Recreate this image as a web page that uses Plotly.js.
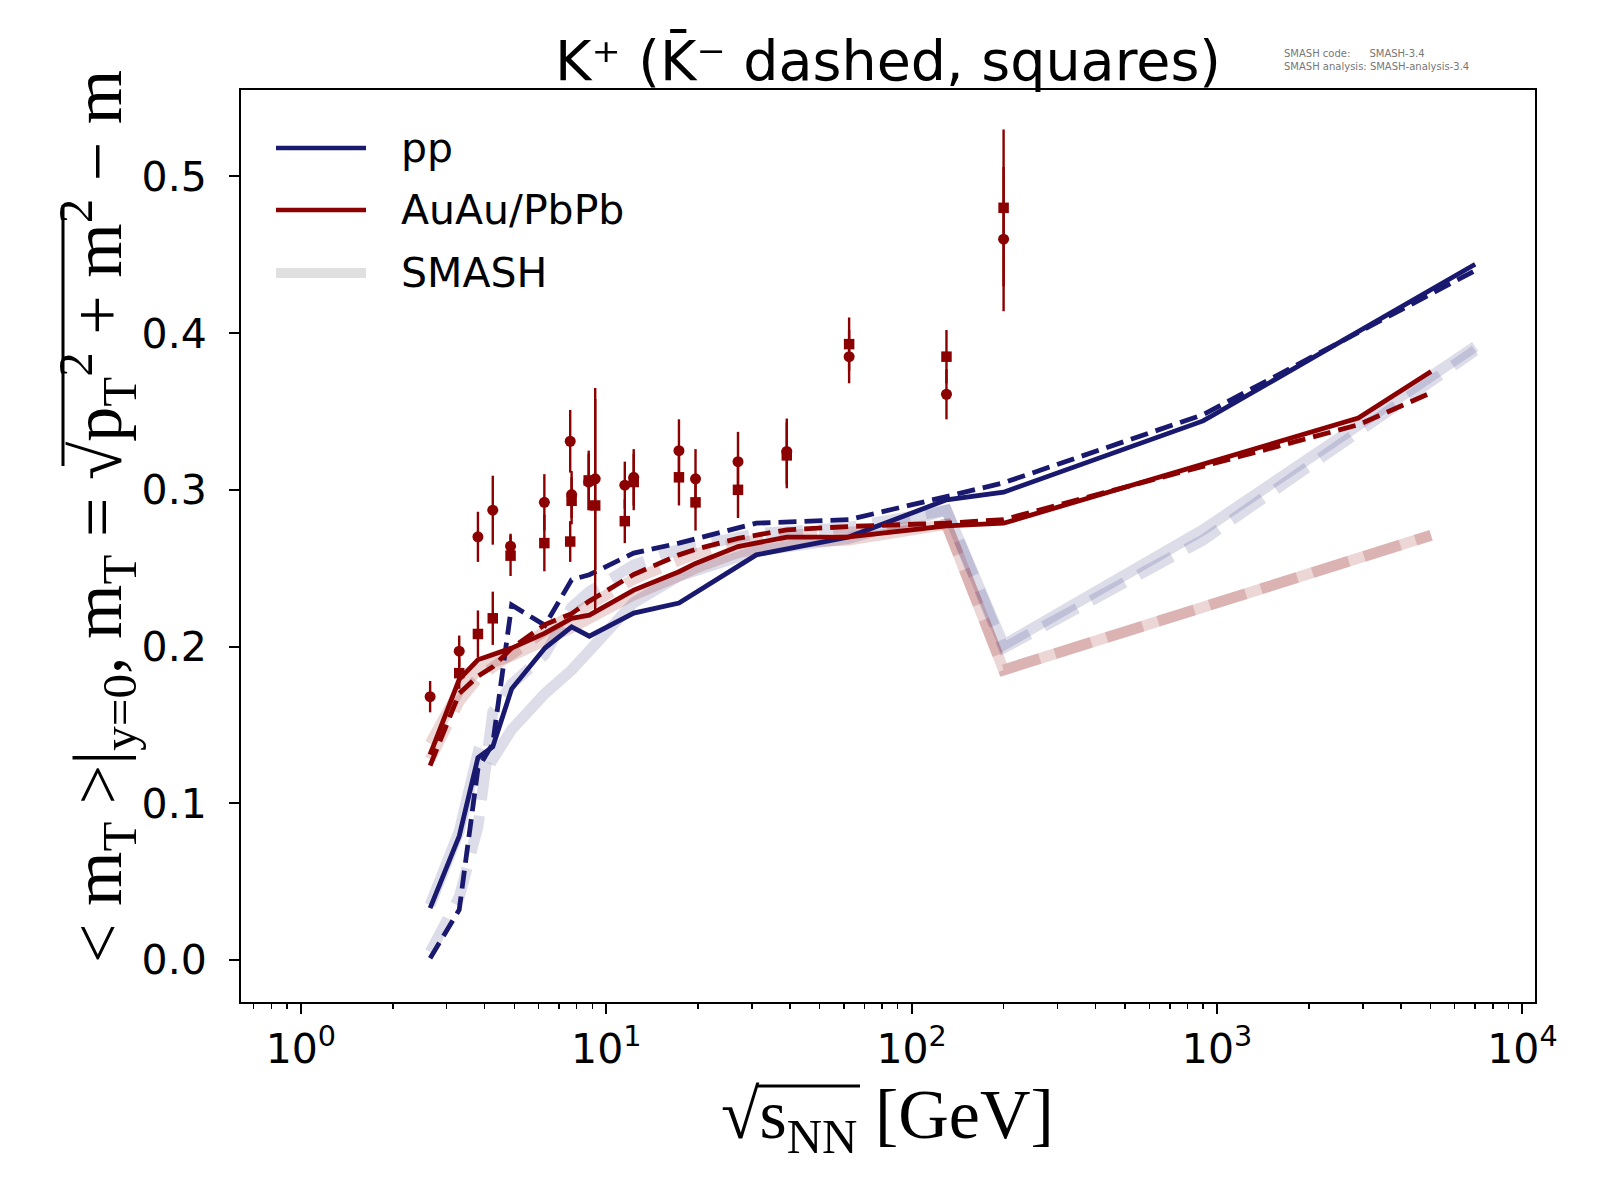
<!DOCTYPE html>
<html>
<head>
<meta charset="utf-8">
<script src="https://cdn.plot.ly/plotly-3.0.1.min.js"></script>
<style>html,body{margin:0;padding:0;background:#fff;}#plot{width:1600px;height:1200px;}</style>
</head>
<body>
<div id="plot"></div>
<script>
// ---------- data ----------
const energiesPP = [2.65, 3.3, 3.8, 4.25, 4.9, 6.3, 7.7, 8.8, 12.3, 17.3, 31, 62.4, 130, 200, 900, 7000];
const ppKplus   = [0.033, 0.079, 0.129, 0.136, 0.173, 0.199, 0.2126, 0.2066, 0.2213, 0.2277, 0.2585, 0.270, 0.2936, 0.2985, 0.344, 0.444];
const ppKminus  = [0.001, 0.032, 0.122, 0.138, 0.2265, 0.2135, 0.2426, 0.2458, 0.2596, 0.266, 0.2787, 0.281, 0.2957, 0.3045, 0.348, 0.440];
const smashPPKplus  = [0.035, 0.082, 0.132, 0.128, 0.147, 0.170, 0.185, 0.198, 0.228, 0.245, 0.261, 0.269, 0.287, 0.201, 0.2745, 0.3915];
const smashPPKminus = [0.005, 0.040, 0.085, 0.158, 0.176, 0.195, 0.225, 0.235, 0.252, 0.262, 0.272, 0.276, 0.287, 0.199, 0.268, 0.389];

const energiesAA = [2.65, 3.3, 3.8, 4.25, 4.9, 6.3, 7.7, 8.8, 11.5, 12.3, 17.3, 19.6, 27, 39, 62.4, 130, 200, 2900, 5020];
const aaKplus    = [0.131, 0.179, 0.1915, 0.195, 0.199, 0.2085, 0.218, 0.220, 0.233, 0.236, 0.2477, 0.253, 0.2638, 0.2698, 0.270, 0.277, 0.2787, 0.3458, 0.3755];
const aaKminus   = [0.124, 0.170, 0.181, 0.187, 0.199, 0.214, 0.221, 0.229, 0.2426, 0.246, 0.2585, 0.262, 0.269, 0.2745, 0.2766, 0.2787, 0.281, 0.3415, 0.362];

const energiesSmashAA = [2.65, 3.3, 3.8, 4.25, 4.9, 6.3, 7.7, 8.8, 11.5, 12.3, 17.3, 19.6, 27, 39, 62.4, 130, 200, 5020];
const smashAAKplus  = [0.138, 0.172, 0.185, 0.190, 0.194, 0.203, 0.212, 0.218, 0.230, 0.233, 0.245, 0.250, 0.260, 0.266, 0.268, 0.278, 0.185, 0.271];
const smashAAKminus = [0.128, 0.165, 0.180, 0.187, 0.196, 0.210, 0.220, 0.227, 0.240, 0.243, 0.255, 0.259, 0.266, 0.271, 0.273, 0.278, 0.185, 0.271];

const dataKplusX   = [2.65, 3.3, 3.8, 4.25, 4.86, 6.27, 7.62, 7.7, 8.76, 9.2, 11.5, 12.3, 17.3, 19.6, 27, 39, 62.4, 130, 200];
const dataKplusY   = [0.168, 0.197, 0.270, 0.287, 0.264, 0.292, 0.331, 0.297, 0.305, 0.307, 0.303, 0.308, 0.325, 0.307, 0.318, 0.3245, 0.385, 0.361, 0.460];
const dataKplusErr = [0.010, 0.010, 0.016, 0.022, 0.008, 0.018, 0.020, 0.015, 0.018, 0.058, 0.015, 0.018, 0.020, 0.019, 0.019, 0.021, 0.017, 0.016, 0.046];

const dataKminusX   = [3.3, 3.8, 4.25, 4.86, 6.27, 7.62, 7.7, 8.76, 9.2, 11.5, 12.3, 17.3, 19.6, 27, 39, 62.4, 130, 200];
const dataKminusY   = [0.183, 0.208, 0.218, 0.258, 0.266, 0.267, 0.293, 0.306, 0.290, 0.280, 0.305, 0.308, 0.292, 0.300, 0.322, 0.393, 0.385, 0.480];
const dataKminusErr = [0.010, 0.015, 0.017, 0.013, 0.018, 0.013, 0.015, 0.019, 0.068, 0.014, 0.018, 0.018, 0.018, 0.018, 0.021, 0.017, 0.017, 0.050];

const xTickVals = [1, 10, 100, 1000, 10000];
const xTickText = ['10<sup>0</sup>', '10<sup>1</sup>', '10<sup>2</sup>', '10<sup>3</sup>', '10<sup>4</sup>'];
const yTickVals = [0, 0.1, 0.2, 0.3, 0.4, 0.5];
const yTickText = ['0.0', '0.1', '0.2', '0.3', '0.4', '0.5'];

// ---------- styling ----------
const NAVY = '#191970', RED = '#8b0000';
const LAV = 'rgba(25,25,112,0.15)', PINK = 'rgba(139,0,0,0.16)';
const BAND_W = 11, LINE_W = 4.8;
const BAND_DASH = '38px,16px', LINE_DASH = '18px,8px';

function line(x, y, color, width, dash) {
  return {x: x, y: y, type: 'scatter', mode: 'lines', hoverinfo: 'skip',
          line: {color: color, width: width, dash: dash || 'solid'}};
}
const traces = [
  line(energiesPP, smashPPKplus, LAV, BAND_W),
  line(energiesPP, smashPPKminus, LAV, BAND_W, BAND_DASH),
  line(energiesSmashAA, smashAAKplus, PINK, BAND_W),
  line(energiesSmashAA, smashAAKminus, PINK, BAND_W, BAND_DASH),
  line(energiesPP, ppKplus, NAVY, LINE_W),
  line(energiesPP, ppKminus, NAVY, LINE_W, LINE_DASH),
  line(energiesAA, aaKplus, RED, LINE_W),
  line(energiesAA, aaKminus, RED, LINE_W, LINE_DASH),
  {x: dataKplusX, y: dataKplusY, type: 'scatter', mode: 'markers',
   marker: {symbol: 'circle', size: 11, color: RED},
   error_y: {type: 'data', array: dataKplusErr, visible: true, color: RED, thickness: 2.4, width: 0}},
  {x: dataKminusX, y: dataKminusY, type: 'scatter', mode: 'markers',
   marker: {symbol: 'square', size: 10.5, color: RED},
   error_y: {type: 'data', array: dataKminusErr, visible: true, color: RED, thickness: 2.4, width: 0}}
];

// plot area in pixels
const L = 241, R = 1535, T = 90, B = 1002;
const px = v => (v - L) / (R - L);
const py = v => (B - v) / (B - T);

const legendRows = [
  {label: 'pp', color: NAVY, width: 4.5, y: 148},
  {label: 'AuAu/PbPb', color: RED, width: 4.5, y: 210},
  {label: 'SMASH', color: 'rgb(224,224,224)', width: 10, y: 273}
];
const shapes = legendRows.map(r => ({type: 'line', xref: 'paper', yref: 'paper',
  x0: px(276), x1: px(366), y0: py(r.y), y1: py(r.y), line: {color: r.color, width: r.width}}));
// vinculum of the radical in the x-axis title
shapes.push({type: 'line', xref: 'paper', yref: 'paper', x0: px(757), x1: px(860), y0: py(1086), y1: py(1086),
  line: {color: 'black', width: 3}});
// vinculum of the radical in the y-axis title
shapes.push({type: 'line', xref: 'paper', yref: 'paper', x0: px(63), x1: px(63), y0: py(466), y1: py(205),
  line: {color: 'black', width: 3}});

const annotations = legendRows.map(r => ({xref: 'paper', yref: 'paper', x: px(399), y: py(r.y),
  xanchor: 'left', yanchor: 'middle', showarrow: false, text: r.label,
  font: {family: 'DejaVu Sans', size: 41, color: 'black'}}));

annotations.push(
  {xref: 'paper', yref: 'paper', x: 0.5, y: py(61), xanchor: 'center', yanchor: 'middle', showarrow: false,
   text: 'K\u207A (K\u0304\u207B dashed, squares)', font: {family: 'DejaVu Sans', size: 55.5, color: 'black'}},
  {xref: 'paper', yref: 'paper', x: px(1282), y: py(54), xanchor: 'left', yanchor: 'middle', showarrow: false,
   text: 'SMASH code:      SMASH-3.4', font: {family: 'DejaVu Sans', size: 10, color: '#777'}},
  {xref: 'paper', yref: 'paper', x: px(1282), y: py(67), xanchor: 'left', yanchor: 'middle', showarrow: false,
   text: 'SMASH analysis: SMASH-analysis-3.4', font: {family: 'DejaVu Sans', size: 10, color: '#777'}},
  {xref: 'paper', yref: 'paper', x: px(887), y: py(1120), xanchor: 'center', yanchor: 'middle', showarrow: false,
   text: '\u221As<sub>NN</sub> [GeV]',
   font: {family: 'Liberation Serif', size: 70, color: 'black'}},
  {xref: 'paper', yref: 'paper', x: px(97), y: py(517), xanchor: 'center', yanchor: 'middle', showarrow: false,
   textangle: -90,
   text: '< m<sub>T</sub> >|<sub>y=0</sub>, m<sub>T</sub> = \u221Ap<sub>T</sub><sup>2</sup> + m<sup>2</sup> \u2212 m',
   font: {family: 'Liberation Serif', size: 70, color: 'black'}}
);

const axisCommon = {showline: true, linecolor: 'black', linewidth: 2, mirror: true,
  ticks: 'outside', ticklen: 10, tickwidth: 2, tickcolor: 'black', showgrid: false, zeroline: false,
  tickfont: {family: 'DejaVu Sans', size: 41, color: 'black'}};

const layout = {
  width: 1600, height: 1200,
  margin: {l: L, r: 1600 - R, t: T, b: 1200 - B, pad: 0},
  paper_bgcolor: 'white', plot_bgcolor: 'white', showlegend: false,
  xaxis: Object.assign({}, axisCommon, {type: 'log', range: [-0.196, 4.041],
    tickmode: 'array', tickvals: xTickVals, ticktext: xTickText, ticklabelstandoff: 0,
    minor: {ticks: 'outside', ticklen: 5, tickwidth: 1.5, tickcolor: 'black', dtick: 'D1', showgrid: false}}),
  yaxis: Object.assign({}, axisCommon, {range: [-0.0269, 0.5552],
    tickmode: 'array', tickvals: yTickVals, ticktext: yTickText, ticklabelstandoff: 14}),
  shapes: shapes, annotations: annotations
};

Plotly.newPlot('plot', traces, layout, {staticPlot: true});
</script>
</body>
</html>
